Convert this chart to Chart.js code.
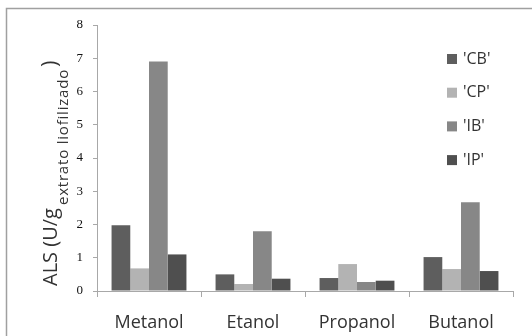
<!DOCTYPE html>
<html>
<head>
<meta charset="utf-8">
<script src="https://cdn.jsdelivr.net/npm/chart.js@4.4.1/dist/chart.umd.min.js"></script>
<style>
  body { margin: 0; background: #fff; }
  #wrap { width: 532px; height: 336px; }
</style>
</head>
<body>
<div id="wrap"><canvas id="c" width="532" height="336"></canvas></div>
<script>
// solventes de extracao
const categories = ['Metanol', 'Etanol', 'Propanol', 'Butanol'];
const seriesLabels = ["'CB'", "'CP'", "'IB'", "'IP'"];
const seriesColors = ['#5e5e5e', '#b3b3b3', '#878787', '#4f4f4f'];

const cbValues = [1.98, 0.50, 0.39, 1.02];
const cpValues = [0.68, 0.21, 0.81, 0.66];
const ibValues = [6.90, 1.80, 0.27, 2.67];
const ipValues = [1.10, 0.37, 0.31, 0.60];

const yMin = 0, yMax = 8, yStep = 1;

const sans = "'Open Sans', sans-serif";

// moldura parcial (topo e esquerda), como no recorte original
const framePlugin = {
    id: 'frame',
    beforeDraw(chart) {
        const ctx = chart.ctx;
        ctx.save();
        ctx.strokeStyle = '#a0a0a0';
        ctx.lineWidth = 1.5;
        ctx.beginPath();
        ctx.moveTo(6.5, 336);
        ctx.lineTo(6.5, 8.5);
        ctx.lineTo(532, 8.5);
        ctx.stroke();
        ctx.restore();
    }
};

// titulo do eixo Y com subscrito
const yTitlePlugin = {
    id: 'yTitle',
    afterDraw(chart) {
        const ctx = chart.ctx;
        ctx.save();
        ctx.translate(57, 286);
        ctx.rotate(-Math.PI / 2);
        ctx.fillStyle = '#333';
        ctx.textBaseline = 'alphabetic';
        ctx.textAlign = 'left';
        ctx.font = '20px ' + sans;
        const main = 'ALS (U/g';
        ctx.fillText(main, 0, 0);
        let x = ctx.measureText(main).width + 3;
        ctx.font = '15px ' + sans;
        ctx.letterSpacing = '0.8px';
        const sub = 'extrato liofilizado';
        ctx.fillText(sub, x, 11);
        x += ctx.measureText(sub).width + 2;
        ctx.letterSpacing = '0px';
        ctx.font = '22px ' + sans;
        ctx.fillText(')', x, 0);
        ctx.restore();
    }
};

// legenda dentro da area do grafico
const legendPlugin = {
    id: 'innerLegend',
    afterDraw(chart) {
        const ctx = chart.ctx;
        ctx.save();
        ctx.font = '16px ' + sans;
        ctx.textBaseline = 'middle';
        chart.data.datasets.forEach((ds, i) => {
            const y = 59 + i * 33.7;
            ctx.fillStyle = ds.backgroundColor;
            ctx.fillRect(447, y - 5, 10, 10);
            ctx.fillStyle = '#333';
            ctx.fillText(ds.label, 463, y);
        });
        ctx.restore();
    }
};

const allValues = [cbValues, cpValues, ibValues, ipValues];

new Chart(document.getElementById('c'), {
    type: 'bar',
    data: {
        labels: categories,
        datasets: allValues.map((vals, i) => ({
            label: seriesLabels[i],
            data: vals,
            backgroundColor: seriesColors[i],
            borderWidth: 0,
            categoryPercentage: 0.72,
            barPercentage: 1.0
        }))
    },
    options: {
        responsive: false,
        animation: false,
        layout: { padding: { top: 25, right: 19, left: 0, bottom: 0 } },
        plugins: {
            legend: { display: false },
            tooltip: { enabled: false }
        },
        scales: {
            x: {
                grid: { display: true, drawOnChartArea: false, drawTicks: true, tickLength: 6, color: '#a8a8a8', offset: true },
                border: { display: true, color: '#a8a8a8', width: 1 },
                ticks: { color: '#333', font: { family: sans, size: 18 }, padding: 15 },
                afterFit(scale) { scale.height = 45; }
            },
            y: {
                min: yMin, max: yMax,
                grid: { display: true, drawOnChartArea: false, drawTicks: true, tickLength: 4, color: '#a8a8a8' },
                border: { display: true, color: '#a8a8a8', width: 1 },
                ticks: { stepSize: yStep, color: '#111', font: { family: "'Liberation Serif', serif", size: 13 }, padding: 10 },
                afterFit(scale) { scale.width = 97; }
            }
        }
    },
    plugins: [framePlugin, yTitlePlugin, legendPlugin]
});
</script>
</body>
</html>
